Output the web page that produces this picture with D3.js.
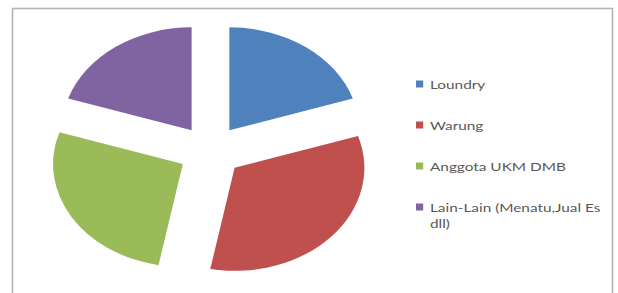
<!DOCTYPE html>
<html>
<head>
<meta charset="utf-8">
<script src="https://cdn.jsdelivr.net/npm/d3@7"></script>
<style>
  html, body { margin: 0; padding: 0; background: #fff; }
  svg { display: block; }
</style>
</head>
<body>
<script>
const categories = ["Loundry", "Warung", "Anggota UKM DMB", "Lain-Lain (Menatu,Jual Es dll)"];
const legendLines = [["Loundry"], ["Warung"], ["Anggota UKM DMB"], ["Lain-Lain (Menatu,Jual Es", "dll)"]];
const values = [20, 33, 27, 20];
const colors = ["#4f81bd", "#c0504d", "#9bbb59", "#8064a2"];

const width = 618, height = 293;
// the picture is stretched sideways, so the chart is drawn in a squeezed space
const stretch = 1.26;

const svg = d3.select("body").append("svg")
  .attr("width", width)
  .attr("height", height);

// chart frame
svg.append("rect")
  .attr("x", 12.5).attr("y", 8.5)
  .attr("width", 600).attr("height", 320)
  .attr("fill", "none")
  .attr("stroke", "#b4b4b4")
  .attr("stroke-width", 1.6);

const g = svg.append("g").attr("transform", `scale(${stretch},1)`);

const radius = 103, explode = 25.5;
const pie = d3.pie().sort(null).value(d => d);
const arc = d3.arc().innerRadius(0).outerRadius(radius);

const pieG = g.append("g")
  .attr("transform", `translate(${210.5 / stretch},151)`);

pieG.selectAll("path")
  .data(pie(values))
  .join("path")
  .attr("d", arc)
  .attr("fill", (d, i) => colors[i])
  .attr("transform", d => {
    const a = (d.startAngle + d.endAngle) / 2;
    return `translate(${Math.sin(a) * explode},${-Math.cos(a) * explode})`;
  });

// legend
const legend = g.append("g")
  .attr("transform", `translate(${416 / stretch},0)`);

const rows = legend.selectAll("g")
  .data(categories)
  .join("g")
  .attr("transform", (d, i) => `translate(0,${84 + i * 41})`);

rows.append("rect")
  .attr("x", 0).attr("y", -3.5)
  .attr("width", 6 / stretch * 1.2).attr("height", 7)
  .attr("fill", (d, i) => colors[i]);

rows.append("text")
  .attr("x", 14 / stretch)
  .attr("y", 4.5)
  .attr("font-family", "Lato, sans-serif")
  .attr("font-size", 12.2)
  .attr("fill", "#595959")
  .selectAll("tspan")
  .data((d, i) => legendLines[i])
  .join("tspan")
  .attr("x", 14 / stretch)
  .attr("dy", (d, j) => j === 0 ? 0 : 17)
  .text(d => d);
</script>
</body>
</html>
